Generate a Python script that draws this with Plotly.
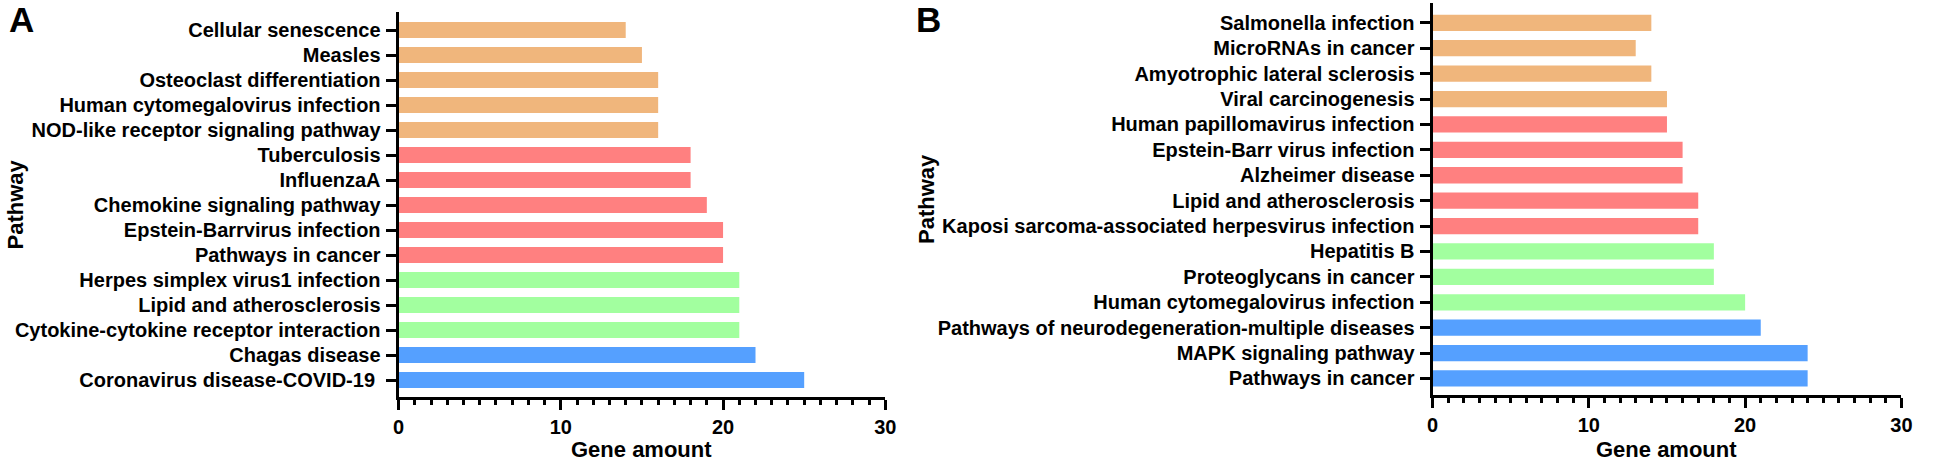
import plotly.graph_objects as go

# ---- data ----
pathways_A = [
    "Cellular senescence", "Measles", "Osteoclast differentiation",
    "Human cytomegalovirus infection", "NOD-like receptor signaling pathway",
    "Tuberculosis", "InfluenzaA", "Chemokine signaling pathway",
    "Epstein-Barrvirus infection", "Pathways in cancer",
    "Herpes simplex virus1 infection", "Lipid and atherosclerosis",
    "Cytokine-cytokine receptor interaction", "Chagas disease",
    "Coronavirus disease-COVID-19 ",
]
genes_A = [14, 15, 16, 16, 16, 18, 18, 19, 20, 20, 21, 21, 21, 22, 25]
group_A = ["orange"] * 5 + ["red"] * 5 + ["green"] * 3 + ["blue"] * 2

pathways_B = [
    "Salmonella infection", "MicroRNAs in cancer", "Amyotrophic lateral sclerosis",
    "Viral carcinogenesis", "Human papillomavirus infection",
    "Epstein-Barr virus infection", "Alzheimer disease",
    "Lipid and atherosclerosis", "Kaposi sarcoma-associated herpesvirus infection",
    "Hepatitis B", "Proteoglycans in cancer", "Human cytomegalovirus infection",
    "Pathways of neurodegeneration-multiple diseases", "MAPK signaling pathway",
    "Pathways in cancer",
]
genes_B = [14, 13, 14, 15, 15, 16, 16, 17, 17, 18, 18, 20, 21, 24, 24]
group_B = ["orange"] * 4 + ["red"] * 5 + ["green"] * 3 + ["blue"] * 3

x_title = "Gene amount"
y_title = "Pathway"
panel_labels = ["A", "B"]

# ---- style ----
palette = {"orange": "#F0B67C", "red": "#FF8080", "green": "#A2FF9F", "blue": "#55A0FF"}
W, H = 1960, 463
FONT = "Liberation Sans, Arial, sans-serif"

fig = go.Figure()

panels = [
    dict(cats=pathways_A, vals=genes_A, grp=group_A, x0=396, x1=887, top=12, bot=397,
         yr=[14.68, -0.72], xa="x", ya="y", ytx=10, lab_x=16),
    dict(cats=pathways_B, vals=genes_B, grp=group_B, x0=1439, x1=1912, top=3, bot=395,
         yr=[14.65, -0.78], xa="x2", ya="y2", ytx=928, lab_x=931),
]

layout = dict(
    width=W, height=H, margin=dict(l=0, r=0, t=0, b=0),
    paper_bgcolor="white", plot_bgcolor="white", showlegend=False,
    font=dict(family=FONT, color="black"),
)
annotations = []
for i, p in enumerate(panels):
    idx = "" if i == 0 else "2"
    fig.add_trace(go.Bar(
        x=p["vals"], y=list(range(len(p["cats"]))), orientation="h",
        marker=dict(color=[palette[g] for g in p["grp"]], line=dict(width=0)),
        width=0.64, xaxis=p["xa"], yaxis=p["ya"], hoverinfo="x+y",
    ))
    layout["xaxis" + idx] = dict(
        domain=[p["x0"] / W, p["x1"] / W], range=[0, 30], anchor=p["ya"],
        showgrid=False, zeroline=False, showline=True, linecolor="black", linewidth=3,
        ticks="outside", ticklen=10, tickwidth=3, tickcolor="black", dtick=10, tick0=0,
        minor=dict(dtick=1, ticks="outside", ticklen=5, tickwidth=3, tickcolor="black"),
        tickfont=dict(family=FONT, size=20, weight="bold", color="black"),
        fixedrange=True,
    )
    layout["yaxis" + idx] = dict(
        domain=[1 - p["bot"] / H, 1 - p["top"] / H], range=p["yr"], anchor=p["xa"],
        showgrid=False, zeroline=False, showline=True, linecolor="black", linewidth=3,
        ticks="outside", ticklen=10, tickwidth=3, tickcolor="black",
        tickvals=list(range(len(p["cats"]))), ticktext=p["cats"],
        tickfont=dict(family=FONT, size=20, weight="bold", color="black"),
        ticklabelstandoff=1, fixedrange=True,
    )
    annotations.append(dict(
        text=x_title, xref="paper", yref="paper",
        x=(p["x0"] + p["x1"]) / 2 / W, y=1 - 449 / H, xanchor="center", yanchor="middle",
        showarrow=False, font=dict(family=FONT, size=22, weight="bold", color="black"),
    ))
    annotations.append(dict(
        text=y_title, xref="paper", yref="paper", textangle=-90,
        x=p["ytx"] / W, y=1 - (p["top"] + p["bot"]) / 2 / H, xanchor="center", yanchor="middle",
        showarrow=False, font=dict(family=FONT, size=22, weight="bold", color="black"),
    ))
    annotations.append(dict(
        text=panel_labels[i], xref="paper", yref="paper",
        x=p["lab_x"] / W, y=1 - 19 / H, xanchor="center", yanchor="middle",
        showarrow=False, font=dict(family=FONT, size=35, weight="bold", color="black"),
    ))

layout["annotations"] = annotations
fig.update_layout(**layout)
fig.write_html(
    "out.html",
    config={"displayModeBar": False},
    post_script="document.body.style.margin='0';document.body.style.overflow='hidden';",
)
